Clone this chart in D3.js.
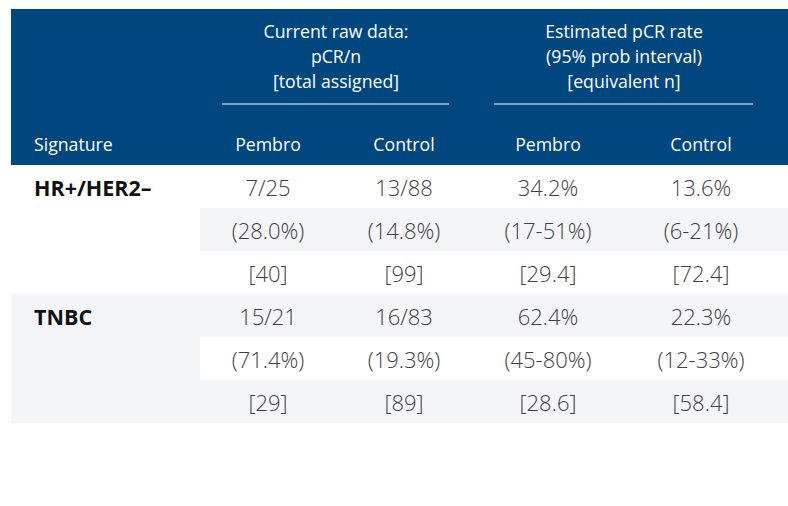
<!DOCTYPE html>
<html><head><meta charset="utf-8">
<script src="https://cdn.jsdelivr.net/npm/d3@7"></script>
<style>body{margin:0;background:#fff}svg{display:block}text{font-family:"Open Sans",sans-serif}</style>
</head><body><svg id="c" width="788" height="506"></svg>
<script>
const groupHeaders = [["Current raw data:", "pCR/n", "[total assigned]"], ["Estimated pCR rate", "(95% prob interval)", "[equivalent n]"]];
const columns = ["Pembro", "Control", "Pembro", "Control"];
const signatures = ["HR+/HER2\u2013", "TNBC"];
const rawFraction = [["7/25", "13/88"], ["15/21", "16/83"]];
const rawPercent = [["(28.0%)", "(14.8%)"], ["(71.4%)", "(19.3%)"]];
const totalAssigned = [["[40]", "[99]"], ["[29]", "[89]"]];
const estRate = [["34.2%", "13.6%"], ["62.4%", "22.3%"]];
const probInterval = [["(17-51%)", "(6-21%)"], ["(45-80%)", "(12-33%)"]];
const equivN = [["[29.4]", "[72.4]"], ["[28.6]", "[58.4]"]];

const svg = d3.select("#c");
const X0 = 11, X1 = 788, colStart = 200;
const navy = "#00467f", shade = "#f4f5f9", txt = "#404040";
const colCenters = [268, 404, 548, 701];
const headTop = 9, headBot = 165, rowH = 43;
const rowY = d3.scaleLinear().domain([0, 6]).range([headBot, headBot + 6 * rowH]);

// header
svg.append("rect").attr("x", X0).attr("y", headTop).attr("width", X1 - X0).attr("height", headBot - headTop).attr("fill", navy);
const groups = [{cx: 336, x1: 222, x2: 449}, {cx: 624, x1: 494, x2: 753}];
groups.forEach((g, i) => {
  groupHeaders[i].forEach((l, j) => {
    svg.append("text").attr("x", g.cx).attr("y", 32 + j * 25).attr("dy", "0.35em")
      .attr("text-anchor", "middle").attr("fill", "#fff").attr("font-size", 17.7).text(l);
  });
  svg.append("line").attr("x1", g.x1).attr("x2", g.x2).attr("y1", 104).attr("y2", 104)
    .attr("stroke", "#fff").attr("stroke-width", 1.2);
});
svg.append("text").attr("x", 34).attr("y", 145).attr("dy", "0.35em").attr("fill", "#fff").attr("font-size", 17.7).text("Signature");
columns.forEach((c, i) => {
  svg.append("text").attr("x", colCenters[i]).attr("y", 145).attr("dy", "0.35em")
    .attr("text-anchor", "middle").attr("fill", "#fff").attr("font-size", 17.7).text(c);
});

// body
signatures.forEach((s, si) => {
  const r0 = si * 3;
  if (si === 1) {
    svg.append("rect").attr("x", X0).attr("y", rowY(r0)).attr("width", X1 - X0).attr("height", rowY(r0 + 3) - rowY(r0)).attr("fill", shade);
    svg.append("rect").attr("x", colStart).attr("y", rowY(r0 + 1)).attr("width", X1 - colStart).attr("height", rowH).attr("fill", "#fff");
  } else {
    svg.append("rect").attr("x", colStart).attr("y", rowY(r0 + 1)).attr("width", X1 - colStart).attr("height", rowH).attr("fill", shade);
  }
  svg.append("text").attr("x", 34).attr("y", rowY(r0) + 23).attr("dy", "0.35em")
    .attr("font-size", 21.5).attr("font-weight", 700).attr("fill", "#111").text(s);
  const rows = [
    [rawFraction[si][0], rawFraction[si][1], estRate[si][0], estRate[si][1]],
    [rawPercent[si][0], rawPercent[si][1], probInterval[si][0], probInterval[si][1]],
    [totalAssigned[si][0], totalAssigned[si][1], equivN[si][0], equivN[si][1]]
  ];
  rows.forEach((vals, ri) => {
    vals.forEach((v, ci) => {
      svg.append("text").attr("x", colCenters[ci]).attr("y", rowY(r0 + ri) + 23).attr("dy", "0.35em")
        .attr("text-anchor", "middle").attr("font-size", 22).attr("font-weight", 300).attr("fill", txt).text(v);
    });
  });
});
</script></body></html>
